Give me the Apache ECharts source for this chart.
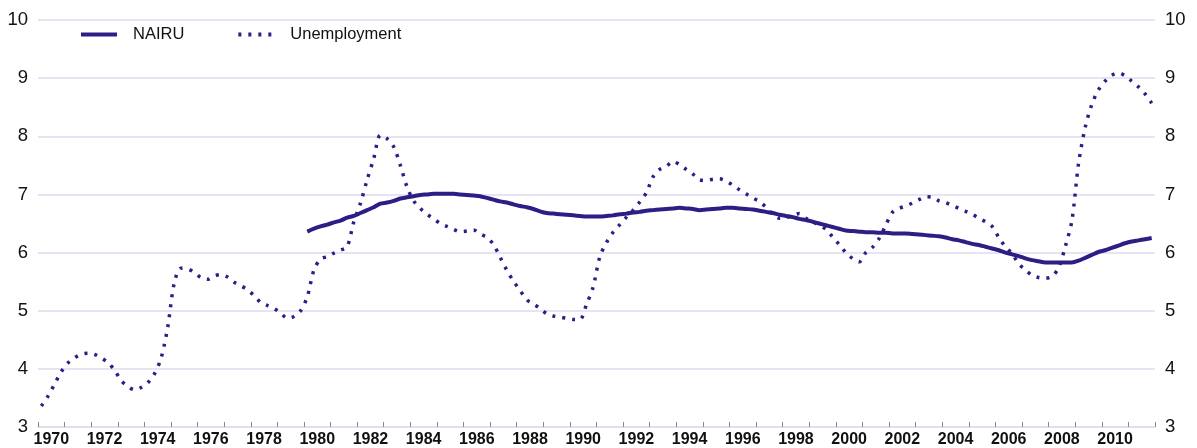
<!DOCTYPE html>
<html>
<head>
<meta charset="utf-8">
<script src="https://cdn.jsdelivr.net/npm/echarts@6/dist/echarts.min.js"></script>
<style>
  html, body { margin: 0; padding: 0; background: #fff; }
  #chart { width: 1197px; height: 448px; }
</style>
</head>
<body>
<div id="chart"></div>
<script>
// years on the axis, one label every other year
var years = [];
for (var y = 1970; y <= 2011; y++) years.push(String(y));

// unemployment rate, quarterly, 1970Q1 - 2011Q4
var unemployment = [
  3.36, 3.53, 3.74, 3.95,   4.10, 4.19, 4.25, 4.27,   4.25, 4.19, 4.11, 3.98,
  3.80, 3.70, 3.64, 3.68,   3.76, 3.91, 4.18, 4.71,   5.48, 5.73, 5.72, 5.66,
  5.57, 5.54, 5.60, 5.62,   5.58, 5.49, 5.43, 5.36,   5.26, 5.14, 5.09, 5.04,
  4.96, 4.87, 4.90, 5.00,   5.24, 5.70, 5.89, 5.93,   5.99, 6.04, 6.10, 6.53,
  6.85, 7.25, 7.62, 8.02,   7.96, 7.82, 7.50, 7.13,   6.89, 6.76, 6.66, 6.58,
  6.50, 6.45, 6.40, 6.36,   6.37, 6.39, 6.32, 6.26,   6.14, 5.92, 5.70, 5.51,
  5.35, 5.19, 5.12, 5.04,   4.95, 4.91, 4.89, 4.87,   4.85, 4.85, 5.11, 5.41,
  5.93, 6.17, 6.35, 6.48,   6.61, 6.73, 6.87, 7.03,   7.30, 7.43, 7.48, 7.57,
  7.51, 7.43, 7.35, 7.25,   7.24, 7.26, 7.27, 7.23,   7.16, 7.08, 7.01, 6.94,
  6.88, 6.78, 6.66, 6.59,   6.60, 6.64, 6.67, 6.59,   6.53, 6.47, 6.40, 6.27,
  6.14, 6.00, 5.90, 5.84,   6.00, 6.09, 6.24, 6.47,   6.69, 6.76, 6.80, 6.85,
  6.91, 6.96, 6.95, 6.89,   6.86, 6.81, 6.76, 6.71,   6.66, 6.59, 6.53, 6.45,
  6.26, 6.10, 5.98, 5.81,   5.70, 5.61, 5.57, 5.56,   5.59, 5.74, 6.10, 6.55,
  7.53, 8.15, 8.55, 8.80,   8.95, 9.05, 9.09, 9.04,   8.95, 8.85, 8.73, 8.57
];

// NAIRU estimate, quarterly, 1980Q1 - 2011Q4
var nairuStart = 1980;
var nairu = [
  6.36, 6.41, 6.45, 6.48,   6.52, 6.55, 6.60, 6.63,   6.68, 6.73, 6.78, 6.84,
  6.86, 6.89, 6.93, 6.95,   6.97, 6.99, 7.00, 7.01,   7.01, 7.01, 7.01, 7.00,
  6.99, 6.98, 6.97, 6.94,   6.91, 6.88, 6.86, 6.83,   6.80, 6.78, 6.75, 6.71,
  6.68, 6.67, 6.66, 6.65,   6.64, 6.63, 6.62, 6.62,   6.62, 6.63, 6.64, 6.66,
  6.67, 6.69, 6.70, 6.72,   6.73, 6.74, 6.75, 6.76,   6.77, 6.76, 6.75, 6.73,
  6.74, 6.75, 6.76, 6.77,   6.77, 6.76, 6.75, 6.74,   6.72, 6.70, 6.68, 6.65,
  6.63, 6.61, 6.58, 6.56,   6.53, 6.50, 6.47, 6.44,   6.41, 6.38, 6.37, 6.36,
  6.35, 6.35, 6.34, 6.34,   6.33, 6.33, 6.33, 6.32,   6.31, 6.30, 6.29, 6.28,
  6.26, 6.23, 6.21, 6.18,   6.15, 6.13, 6.10, 6.07,   6.04, 6.00, 5.97, 5.94,
  5.90, 5.87, 5.85, 5.83,   5.83, 5.83, 5.83, 5.83,   5.86, 5.91, 5.96, 6.01,
  6.04, 6.08, 6.12, 6.16,   6.19, 6.21, 6.23, 6.25
];

// quarter mid-points on a year scale
function quarterly(start, vals) {
  return vals.map(function (v, i) { return [start + i / 4 + 0.125, v]; });
}

var ink = '#2b1f86';
var gridColor = '#dedbee';
var font = 'Liberation Sans';

var option = {
  animation: false,
  grid: { left: 38, right: 42, top: 20, bottom: 21, containLabel: false },
  legend: {
    left: 74, top: 21,
    itemWidth: 36, itemHeight: 10, itemGap: 52,
    itemStyle: { opacity: 0 },
    textStyle: { fontFamily: font, fontSize: 16.5, color: '#111', padding: [0, 0, 0, 11] },
    data: [
      { name: 'NAIRU', lineStyle: { width: 4 } },
      { name: 'Unemployment', lineStyle: { width: 4, type: [3, 7] } }
    ]
  },
  xAxis: [
    {
      type: 'value', min: 1970, max: 2012, interval: 1,
      axisLine: { lineStyle: { color: gridColor, width: 1.5 } },
      axisTick: { inside: true, length: 5, lineStyle: { color: '#888' } },
      axisLabel: { show: false },
      splitLine: { show: false }
    },
    {
      type: 'category', position: 'bottom', data: years, boundaryGap: true,
      axisLine: { show: false },
      axisTick: { show: false },
      axisLabel: { interval: 1, margin: 5, fontFamily: font, fontWeight: 'bold', fontSize: 16, color: '#111' }
    }
  ],
  yAxis: [
    {
      type: 'value', min: 3, max: 10, interval: 1, position: 'left',
      axisLine: { show: false }, axisTick: { show: false },
      axisLabel: { margin: 10, fontFamily: font, fontSize: 18.5, color: '#111' },
      splitLine: { lineStyle: { color: gridColor, width: 1.5 } }
    },
    {
      type: 'value', min: 3, max: 10, interval: 1, position: 'right',
      axisLine: { show: false }, axisTick: { show: false },
      axisLabel: { margin: 10, fontFamily: font, fontSize: 18.5, color: '#111' },
      splitLine: { show: false }
    }
  ],
  series: [
    {
      name: 'NAIRU', type: 'line', xAxisIndex: 0, yAxisIndex: 0,
      showSymbol: false, symbol: 'none', smooth: 0.3,
      lineStyle: { color: ink, width: 4 },
      itemStyle: { color: ink },
      data: quarterly(nairuStart, nairu)
    },
    {
      name: 'Unemployment', type: 'line', xAxisIndex: 0, yAxisIndex: 0,
      showSymbol: false, symbol: 'none', smooth: 0.3,
      lineStyle: { color: ink, width: 3.5, type: [3, 7] },
      itemStyle: { color: ink },
      data: quarterly(1970, unemployment)
    }
  ]
};

var chart = echarts.init(document.getElementById('chart'));
chart.setOption(option);
</script>
</body>
</html>
